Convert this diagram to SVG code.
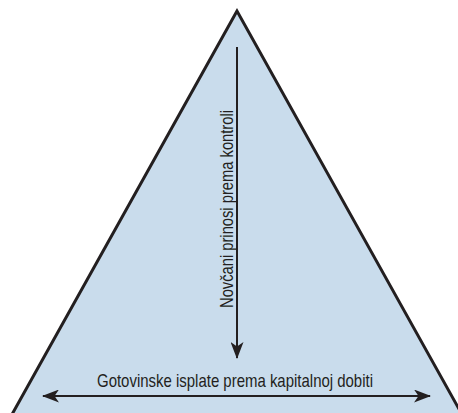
<svg xmlns="http://www.w3.org/2000/svg" width="458" height="413" viewBox="0 0 458 413">
<style>
.tri{fill:#c9dcec;stroke:#231f20;stroke-width:3;stroke-linejoin:miter}
.conn{stroke:#231f20;stroke-width:2;fill:none}
.lbl{font-family:"Liberation Sans",Arial,sans-serif;font-size:18.5px;fill:#231f20}
</style>
<defs>
<marker id="ah" viewBox="0 0 17 13" refX="16" refY="6.5" markerWidth="17" markerHeight="13" markerUnits="userSpaceOnUse" orient="auto-start-reverse">
<path d="M0,0 L17,6.5 L0,13 L4.5,6.5 Z" fill="#231f20"/>
</marker>
</defs>
<g id="pyramid">
<polygon class="tri" points="237,11 10,418 464,418"/>
</g>
<g id="connectors">
<line class="conn" x1="237" y1="47" x2="237" y2="358" marker-end="url(#ah)"/>
<line class="conn" x1="43" y1="396" x2="430" y2="396" marker-start="url(#ah)" marker-end="url(#ah)"/>
</g>
<g id="label-vertical">
<text class="lbl" transform="translate(233,209) rotate(-90)" text-anchor="middle" textLength="198" lengthAdjust="spacingAndGlyphs">Novčani prinosi prema kontroli</text>
</g>
<g id="label-horizontal">
<text class="lbl" x="235" y="387" text-anchor="middle" textLength="276" lengthAdjust="spacingAndGlyphs">Gotovinske isplate prema kapitalnoj dobiti</text>
</g>
</svg>
